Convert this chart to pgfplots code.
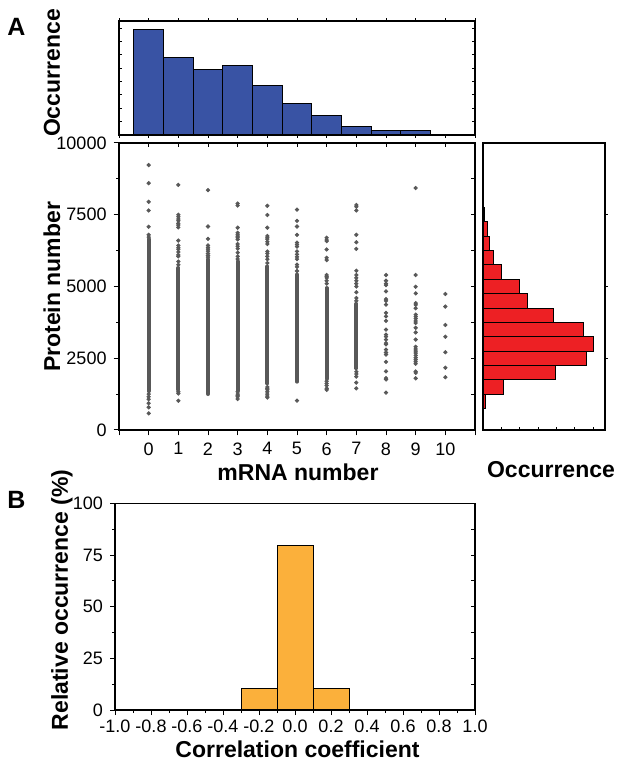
\documentclass[border=0pt]{standalone}
\usepackage{fontspec}
\setmainfont{Liberation Sans}
\usepackage{pgfplots}
\pgfplotsset{compat=1.18}
\definecolor{histblue}{RGB}{57,83,164}
\definecolor{histred}{RGB}{237,32,36}
\definecolor{historange}{RGB}{251,176,59}
\definecolor{dotgray}{RGB}{88,88,88}
\pgfplotsset{
  base/.style={scale only axis, anchor=south west,
    axis line style={line width=0.65pt},
    tick style={line width=0.5pt, black},
    tick label style={font=\fontsize{9}{9}\selectfont},
    /pgf/number format/assume math mode=true,
    /pgf/number format/1000 sep={}, scaled ticks=false},
  core/.style={draw=dotgray, line width=1.9pt, line cap=round, forget plot},
  dots/.style={only marks, mark=*, mark size=0.85pt,
    mark options={draw=dotgray, fill=dotgray}},
  bars/.style={draw=black, line width=0.5pt},
}
\newcommand{\lab}{\bfseries\fontsize{11.5}{11.5}\selectfont}
\begin{document}
\begin{tikzpicture}
\path[use as bounding box] (0,0) rectangle (308pt,380pt);

% top histogram: mRNA number
\begin{axis}[base, at={(59.5pt,312.5pt)}, width=178pt, height=57pt,
  xmin=-1, xmax=11, ymin=0, ymax=8550,
  xtick={-1,0,...,11}, ytick={1000,2000,...,8000},
  xticklabels={}, yticklabels={},
  tick align=inside, major tick length=1.4pt,
  ybar, bar width=1]
\addplot[bars, fill=histblue] coordinates {
  (0,7925) (1,5800) (2,4900) (3,5200) (4,3700)
  (5,2350) (6,1450) (7,625) (8,300) (9,300)};
\end{axis}

% scatter: protein vs mRNA
\begin{axis}[base, at={(59.5pt,165pt)}, width=178pt, height=143.5pt,
  xmin=-1, xmax=11, ymin=0, ymax=10000,
  xtick={0,1,...,10}, extra x ticks={-1,11}, extra x tick labels={},
  ytick={0,2500,5000,7500,10000}, minor ytick={1250,3750,6250,8750},
  tick pos=left, tick align=outside,
  major tick length=2.7pt, minor tick length=1.3pt]
% dense cores of the columns
\addplot[core] coordinates {(0,1350) (0,6650)};
\addplot[core] coordinates {(1,1400) (1,5650)};
\addplot[core] coordinates {(2,1250) (2,5950)};
\addplot[core] coordinates {(3,1380) (3,5880)};
\addplot[core] coordinates {(4,1620) (4,5700)};
\addplot[core] coordinates {(5,1680) (5,5420)};
\addplot[core] coordinates {(6,1780) (6,4950)};
\addplot[core] coordinates {(7,2150) (7,4400)};
% single cells
\addplot[dots] coordinates {
  (0,9230) (0,8600) (0,7950) (0,7650) (0,7080) (0,6800) (0,6720)
  (0,1250) (0,1160) (0,1070) (0,930) (0,790) (0,580)
  (1,8540) (1,7500) (1,7430) (1,7350) (1,7290) (1,7200) (1,7140) (1,7060)
  (1,6600) (1,6430) (1,6350) (1,6300) (1,6200) (1,6100) (1,6050)
  (1,5870) (1,5760) (1,1330) (1,1270) (1,1020)
  (2,8360) (2,7090) (2,6660) (2,6430) (2,6360) (2,6300) (2,6230) (2,6150)
  (2,6080) (2,6020)
  (3,7890) (3,7820) (3,7050) (3,6870) (3,6800) (3,6750) (3,6700) (3,6640)
  (3,6480) (3,6400) (3,6320) (3,6180) (3,6050) (3,5960)
  (3,1330) (3,1250) (3,1200) (3,1160) (3,1080)
  (4,7810) (4,7490) (4,7050) (4,6760) (4,6700) (4,6650) (4,6560) (4,6480)
  (4,6220) (4,6150) (4,6050) (4,5950) (4,5820)
  (4,1500) (4,1450) (4,1400) (4,1330) (4,1250) (4,1180) (4,1130)
  (5,7680) (5,7290) (5,7090) (5,6800) (5,6530) (5,6460) (5,6390)
  (5,6220) (5,6120) (5,6030) (5,5950) (5,5760) (5,5680) (5,5540) (5,1020)
  (6,6700) (6,6620) (6,6580) (6,6290) (6,6000) (6,5920) (6,5400) (6,5350)
  (6,5300) (6,5200) (6,5100) (6,1700) (6,1620) (6,1550) (6,1450) (6,1400)
  (7,7840) (7,7780) (7,7650) (7,6800) (7,6540) (7,6310) (7,5550) (7,5400)
  (7,5300) (7,5200) (7,5100) (7,5000) (7,4800) (7,4600) (7,4500)
  (7,2030) (7,1950) (7,1860) (7,1650) (7,1450)
  (8,5400) (8,5200) (8,5100) (8,5050) (8,4830) (8,4560) (8,4500) (8,4370)
  (8,4080) (8,3960) (8,3800) (8,3500) (8,3320) (8,3250) (8,3150) (8,3030)
  (8,2980) (8,2800) (8,2700) (8,2630) (8,2370) (8,2040) (8,1810) (8,1760)
  (8,1300)
  (9,8430) (9,5400) (9,4990) (9,4760) (9,4420) (9,4360) (9,4240) (9,4020)
  (9,3950) (9,3880) (9,3800) (9,3730) (9,3560) (9,3400) (9,3150) (9,2900)
  (9,2820) (9,2750) (9,2680) (9,2600) (9,2520) (9,2450) (9,2380) (9,2310)
  (9,2040) (9,1990) (9,1800)
  (10,4740) (10,4300) (10,3660) (10,3250) (10,2710) (10,2170) (10,1840)};
\end{axis}
% inner ticks on top and right of the scatter
\begin{axis}[base, at={(59.5pt,165pt)}, width=178pt, height=143.5pt,
  xmin=-1, xmax=11, ymin=0, ymax=10000,
  xtick={-1,0,...,11}, ytick={0,1250,...,10000},
  xticklabels={}, yticklabels={},
  tick pos=right, tick align=inside, major tick length=2pt]
\end{axis}

% right histogram: protein number
\begin{axis}[base, at={(241.5pt,165pt)}, width=61pt, height=143.5pt,
  xmin=0, xmax=6.64, ymin=0, ymax=10000,
  xtick={0,1,...,6}, ytick={2500,5000,7500},
  xticklabels={}, yticklabels={},
  xtick pos=left, ytick pos=right, tick align=inside,
  major tick length=1.4pt,
  xbar, bar width=500]
\addplot[bars, fill=histred] coordinates {
  (0.13,1000) (1.09,1500) (3.95,2000) (5.62,2500) (6.02,3000)
  (5.47,3500) (3.82,4000) (2.42,4500) (1.98,5000) (1.00,5500)
  (0.56,6000) (0.38,6500) (0.22,7000) (0.09,7500) (0.05,8000)};
\end{axis}

% panel B: correlation coefficients
\begin{axis}[base, at={(57.5pt,25pt)}, width=180pt, height=103.3pt,
  xmin=-1, xmax=1, ymin=0, ymax=100,
  xtick={-1,-0.8,-0.6,-0.4,-0.2,0,0.2,0.4,0.6,0.8,1},
  xticklabels={-1.0,-0.8,-0.6,-0.4,-0.2,0.0,0.2,0.4,0.6,0.8,1.0},
  minor xtick={-0.9,-0.7,-0.5,-0.3,-0.1,0.1,0.3,0.5,0.7,0.9},
  ytick={0,25,50,75,100}, minor ytick={12.5,37.5,62.5,87.5},
  xtick pos=left, ytick pos=left,
  xtick align=inside, ytick align=outside,
  xticklabel style={inner sep=1pt, yshift=-1.5pt},
  major tick length=2.5pt, minor tick length=1.5pt,
  ybar, bar width=0.2]
\addplot[bars, fill=historange] coordinates {(-0.2,10.2) (0,79.5) (0.2,10.3)};
\end{axis}
\begin{axis}[base, at={(57.5pt,25pt)}, width=180pt, height=103.3pt,
  xmin=-1, xmax=1, ymin=0, ymax=100,
  xtick=\empty, ytick={12.5,25,...,87.5}, yticklabels={},
  ytick pos=right, tick align=inside, major tick length=2pt]
\end{axis}

% panel letters and axis titles
\node[font=\bfseries\fontsize{12.5}{12.5}\selectfont] at (8.25pt,366.5pt) {A};
\node[font=\bfseries\fontsize{12.5}{12.5}\selectfont] at (8.25pt,130pt) {B};
\node[rotate=90, font=\lab] at (26pt,343.5pt) {Occurrence};
\node[rotate=90, font=\lab] at (26pt,236.5pt) {Protein number};
\node[font=\lab] at (149pt,144pt) {mRNA number};
\node[font=\lab] at (275.5pt,145pt) {Occurrence};
\node[rotate=90, font=\lab] at (31pt,80pt) {Relative occurrence (\%)};
\node[font=\lab, inner sep=0pt, anchor=base] at (148.75pt,1.5pt) {Correlation coefficient};
\end{tikzpicture}
\end{document}
